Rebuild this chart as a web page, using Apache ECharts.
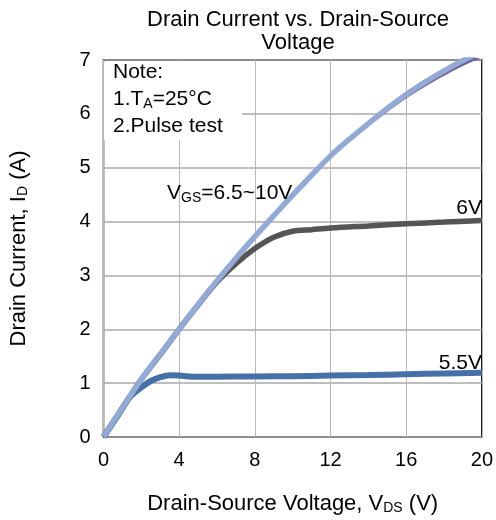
<!DOCTYPE html>
<html>
<head>
<meta charset="utf-8">
<script src="https://cdn.jsdelivr.net/npm/echarts@6/dist/echarts.min.js"></script>
<style>
  html, body { margin: 0; padding: 0; background: #fff; }
  #chart { width: 496px; height: 520px; }
</style>
</head>
<body>
<div id="chart"></div>
<script>
// Output characteristics: drain current vs. drain-source voltage
const xTicks = [0, 4, 8, 12, 16, 20];
const yTicks = [0, 1, 2, 3, 4, 5, 6, 7];

// VGS = 6.5 ~ 10 V (curves nearly coincide)
const vdsHigh = [0, 1, 2, 3, 4, 5, 6, 7, 8, 9, 10, 11, 12, 13, 14, 15, 16, 17, 18, 19, 20];
const idHigh  = [0, 0.54, 1.07, 1.54, 2.0, 2.46, 2.9, 3.32, 3.72, 4.11, 4.49, 4.86, 5.22, 5.53, 5.82, 6.1, 6.36, 6.59, 6.8, 6.99, 7.16];
// VGS = 10 V trace, sits just under the bundle at high VDS
const vds10V  = [0, 2, 4, 6, 8, 10, 12, 14, 15, 16, 17, 18, 19, 20];
const id10V   = [0, 1.07, 2.0, 2.9, 3.72, 4.49, 5.22, 5.81, 6.08, 6.33, 6.55, 6.75, 6.93, 7.09];

// VGS = 6 V
const vds6V = [0, 1, 2, 3, 4, 5, 6, 7, 8, 9, 10, 11, 12, 14, 16, 18, 20];
const id6V  = [0, 0.54, 1.07, 1.53, 2.0, 2.45, 2.88, 3.22, 3.5, 3.71, 3.82, 3.85, 3.88, 3.92, 3.96, 3.99, 4.02];

// VGS = 5.5 V
const vds55V = [0, 0.8, 1.4, 2, 2.5, 3, 3.5, 4, 4.5, 5, 6, 8, 10, 12, 14, 16, 18, 20];
const id55V  = [0, 0.42, 0.74, 0.92, 1.04, 1.11, 1.145, 1.14, 1.125, 1.12, 1.12, 1.125, 1.13, 1.14, 1.15, 1.165, 1.18, 1.195];

const pairs = (xs, ys) => xs.map((x, i) => [x, ys[i]]);

const FONT = 'Liberation Sans, Arial, sans-serif';
const chart = echarts.init(document.getElementById('chart'), null, { renderer: 'canvas' });

const sub = { fontFamily: FONT, fontSize: 14, color: '#000', padding: [9, 0, 0, 0] };

chart.setOption({
  animation: false,
  backgroundColor: '#fff',
  title: {
    text: 'Drain Current vs. Drain-Source\nVoltage',
    left: 298, top: 8, padding: 0, textAlign: 'center',
    textStyle: { fontFamily: FONT, fontSize: 22, fontWeight: 'normal', color: '#000', lineHeight: 23.5 }
  },
  grid: {
    left: 103, right: 13, top: 60, bottom: 81,
    show: true, borderColor: '#000', borderWidth: 1.5, backgroundColor: 'transparent'
  },
  xAxis: {
    type: 'value', min: 0, max: 20, interval: 4,
    axisLine: { show: false },
    axisTick: { show: false },
    axisLabel: { fontFamily: FONT, fontSize: 20, color: '#000', margin: 13,
      formatter: v => xTicks.includes(v) ? String(v) : '' },
    splitLine: { show: true, lineStyle: { color: '#b8b8b8', width: 1 } },
    name: '{t|Drain-Source Voltage, V}{s|DS}{t| (V)}',
    nameLocation: 'middle', nameGap: 55,
    nameTextStyle: {
      rich: {
        t: { fontFamily: FONT, fontSize: 22, color: '#000' },
        s: sub
      }
    }
  },
  yAxis: {
    type: 'value', min: 0, max: 7, interval: 1,
    axisLine: { show: false },
    axisTick: { show: false },
    axisLabel: { fontFamily: FONT, fontSize: 20, color: '#000', margin: 13,
      formatter: v => yTicks.includes(v) ? String(v) : '' },
    splitLine: { show: true, lineStyle: { color: '#a9a9a9', width: 1.5 } },
    name: '{t|Drain Current, I}{s|D}{t| (A)}',
    nameLocation: 'middle', nameGap: 73, nameRotate: 90,
    nameTextStyle: {
      rich: {
        t: { fontFamily: FONT, fontSize: 22, color: '#000' },
        s: sub
      }
    }
  },
  series: [
    {
      name: '5.5V', type: 'line', data: pairs(vds55V, id55V), smooth: 0.35,
      showSymbol: false, clip: true, z: 2,
      lineStyle: { color: '#4570a8', width: 6 }
    },
    {
      name: '6V', type: 'line', data: pairs(vds6V, id6V), smooth: 0.35,
      showSymbol: false, clip: true, z: 3,
      lineStyle: { color: '#555555', width: 5.5 }
    },
    {
      name: '10V', type: 'line', data: pairs(vds10V, id10V), smooth: 0.35,
      showSymbol: false, clip: true, z: 4,
      lineStyle: { color: '#6e5f9f', width: 4 }
    },
    {
      name: '6.5~10V', type: 'line', data: pairs(vdsHigh, idHigh), smooth: 0.35,
      showSymbol: false, clip: true, z: 5,
      lineStyle: { color: '#93aad5', width: 5.5 }
    }
  ],
  graphic: [
    {
      type: 'rect', z: 10,
      shape: { x: 104, y: 62, width: 138, height: 78 },
      style: { fill: '#fff' }
    },
    {
      type: 'text', z: 11, left: 113, top: 62,
      style: {
        text: '{t|Note:}\n{t|1.T}{s|A}{t|=25°C}\n{t|2.Pulse test}',
        rich: {
          t: { fontFamily: FONT, fontSize: 21, color: '#000', lineHeight: 27 },
          s: { fontFamily: FONT, fontSize: 14, color: '#000', lineHeight: 27, padding: [9, 0, 0, 0] }
        }
      }
    },
    {
      type: 'text', z: 11, left: 167, top: 183,
      style: {
        text: '{t|V}{s|GS}{t|=6.5~10V}',
        rich: {
          t: { fontFamily: FONT, fontSize: 21, color: '#000' },
          s: sub
        }
      }
    },
    {
      type: 'text', z: 11, right: 14, top: 198,
      style: { text: '6V', font: '21px ' + FONT, fill: '#000' }
    },
    {
      type: 'text', z: 11, right: 14, top: 353,
      style: { text: '5.5V', font: '21px ' + FONT, fill: '#000' }
    }
  ]
});
</script>
</body>
</html>
